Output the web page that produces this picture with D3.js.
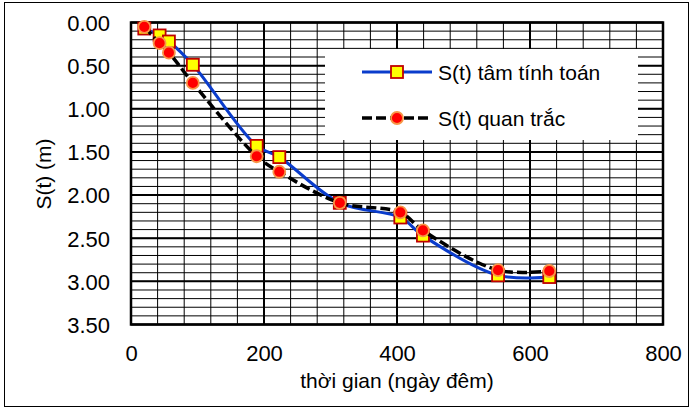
<!DOCTYPE html>
<html>
<head>
<meta charset="utf-8">
<script src="https://cdn.jsdelivr.net/npm/d3@7"></script>
<style>
  html, body { margin: 0; padding: 0; background: #fff; }
  svg { display: block; font-family: "Liberation Sans", Arial, sans-serif; }
</style>
</head>
<body>
<svg id="chart" width="692" height="407"></svg>
<script>
// Settlement over time: computed vs observed
const times = [20, 43, 57, 93, 189, 223, 314, 405, 439, 552, 629];
const sComputed = [0.07, 0.15, 0.22, 0.49, 1.43, 1.56, 2.09, 2.26, 2.47, 2.93, 2.95];
const sObserved = [0.05, 0.24, 0.35, 0.70, 1.55, 1.73, 2.09, 2.20, 2.41, 2.87, 2.88];
const xTicks = [0, 200, 400, 600, 800];
const yTicks = [0, 0.5, 1.0, 1.5, 2.0, 2.5, 3.0, 3.5];
const seriesNames = ["S(t) tâm tính toán", "S(t) quan trắc"];
const xTitle = "thời gian (ngày đêm)";
const yTitle = "S(t) (m)";

const svg = d3.select("#chart");

// outer frame
svg.append("rect")
  .attr("x", 4.5).attr("y", 2.5).attr("width", 684).attr("height", 404)
  .attr("fill", "#fff").attr("stroke", "#000").attr("stroke-width", 1);

const x = d3.scaleLinear().domain([0, 800]).range([131, 663]);
const y = d3.scaleLinear().domain([0, 3.5]).range([22.5, 324.5]);

const grid = svg.append("g");
// minor grid
d3.range(0, 801, 40).forEach(v => {
  grid.append("line").attr("x1", x(v)).attr("x2", x(v)).attr("y1", y(0)).attr("y2", y(3.5))
    .attr("stroke", "#000").attr("stroke-width", 1);
});
d3.range(0, 35).forEach(i => {
  const v = i / 10;
  grid.append("line").attr("x1", x(0)).attr("x2", x(800)).attr("y1", y(v)).attr("y2", y(v))
    .attr("stroke", "#000").attr("stroke-width", 1);
});
// major grid
xTicks.forEach(v => {
  grid.append("line").attr("x1", x(v)).attr("x2", x(v)).attr("y1", y(0)).attr("y2", y(3.5))
    .attr("stroke", "#000").attr("stroke-width", 2);
});
yTicks.forEach(v => {
  grid.append("line").attr("x1", x(0)).attr("x2", x(800)).attr("y1", y(v)).attr("y2", y(v))
    .attr("stroke", "#000").attr("stroke-width", 2);
});
// plot border
svg.append("rect")
  .attr("x", x(0)).attr("y", y(0)).attr("width", x(800) - x(0)).attr("height", y(3.5) - y(0))
  .attr("fill", "none").attr("stroke", "#000").attr("stroke-width", 2.5);

// axes (labels only)
const xAxis = d3.axisBottom(x).tickValues(xTicks).tickSize(0).tickPadding(0).tickFormat(d3.format("d"));
svg.append("g").attr("transform", `translate(0,${y(3.5)})`).call(xAxis)
  .call(g => g.select(".domain").remove())
  .selectAll("text").attr("y", 36).attr("dy", 0)
  .attr("font-size", 22).attr("fill", "#000").attr("font-family", "Liberation Sans, Arial, sans-serif");

const yAxis = d3.axisLeft(y).tickValues(yTicks).tickSize(0).tickPadding(0).tickFormat(d3.format(".2f"));
svg.append("g").attr("transform", `translate(${x(0)},0)`).call(yAxis)
  .call(g => g.select(".domain").remove())
  .selectAll("text").attr("x", -21).attr("dy", "0.36em")
  .attr("font-size", 22).attr("fill", "#000").attr("font-family", "Liberation Sans, Arial, sans-serif");

// axis titles
svg.append("text").attr("x", 397).attr("y", 388).attr("text-anchor", "middle")
  .attr("font-size", 21).text(xTitle);
svg.append("text").attr("transform", "translate(51,174) rotate(-90)").attr("text-anchor", "middle")
  .attr("font-size", 21).text(yTitle);

const line = d3.line().curve(d3.curveCatmullRom.alpha(0.5)).x(d => x(d[0])).y(d => y(d[1]));

const computed = times.map((t, i) => [t, sComputed[i]]);
const observed = times.map((t, i) => [t, sObserved[i]]);

// computed series
svg.append("path").datum(computed).attr("d", line)
  .attr("fill", "none").attr("stroke", "#0a3ccc").attr("stroke-width", 3);
svg.append("g").selectAll("rect").data(computed).join("rect")
  .attr("x", d => x(d[0]) - 6).attr("y", d => y(d[1]) - 6).attr("width", 12).attr("height", 12)
  .attr("fill", "#ffff00").attr("stroke", "#c00000").attr("stroke-width", 1.8);

// observed series
svg.append("path").datum(observed).attr("d", line)
  .attr("fill", "none").attr("stroke", "#000").attr("stroke-width", 3.5)
  .attr("stroke-dasharray", "10,4");
svg.append("g").selectAll("circle").data(observed).join("circle")
  .attr("cx", d => x(d[0])).attr("cy", d => y(d[1])).attr("r", 6)
  .attr("fill", "#ff0000").attr("stroke", "#f79646").attr("stroke-width", 1.8);

// legend
const lg = svg.append("g");
lg.append("rect").attr("x", 325).attr("y", 49).attr("width", 313).attr("height", 91).attr("fill", "#fff");
const rows = [72, 118];
lg.append("line").attr("x1", 362).attr("x2", 432).attr("y1", rows[0]).attr("y2", rows[0])
  .attr("stroke", "#0a3ccc").attr("stroke-width", 3);
lg.append("rect").attr("x", 397 - 6).attr("y", rows[0] - 6).attr("width", 12).attr("height", 12)
  .attr("fill", "#ffff00").attr("stroke", "#c00000").attr("stroke-width", 1.8);
lg.append("line").attr("x1", 362).attr("x2", 432).attr("y1", rows[1]).attr("y2", rows[1])
  .attr("stroke", "#000").attr("stroke-width", 3.5).attr("stroke-dasharray", "10,4");
lg.append("circle").attr("cx", 397).attr("cy", rows[1]).attr("r", 6)
  .attr("fill", "#ff0000").attr("stroke", "#f79646").attr("stroke-width", 1.8);
seriesNames.forEach((name, i) => {
  lg.append("text").attr("x", 438).attr("y", rows[i] + 8).attr("font-size", 21).text(name);
});
</script>
</body>
</html>
